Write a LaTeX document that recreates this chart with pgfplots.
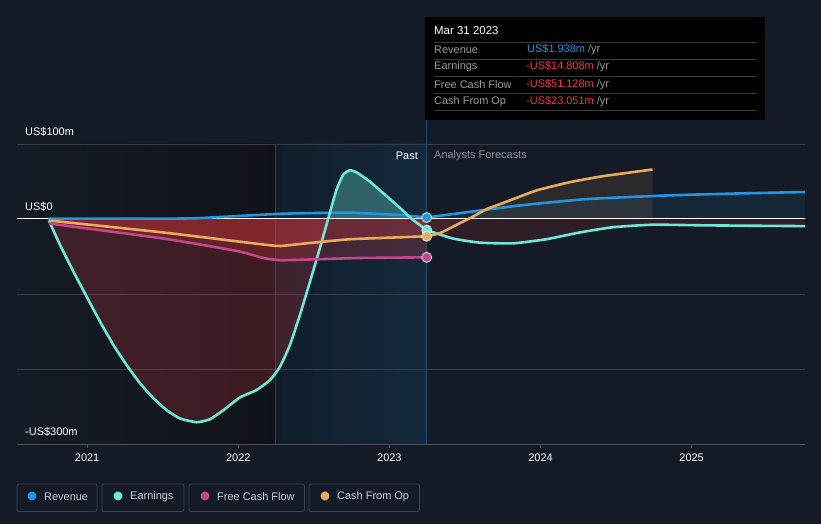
\documentclass[border=0pt]{standalone}
\usepackage{fontspec}
\setmainfont{Liberation Sans}
\usepackage{pgfplots}
\usepackage{pgfplotstable}
\pgfplotsset{compat=1.18}

\definecolor{bg}{HTML}{151B26}
\definecolor{darkshade}{HTML}{0F1319}
\definecolor{hlA}{HTML}{111D2A}
\definecolor{hlB}{HTML}{13293D}
\definecolor{vline}{HTML}{1E4A6C}
\definecolor{revc}{HTML}{2394DF}
\definecolor{earnc}{HTML}{6EE7D4}
\definecolor{fcfc}{HTML}{C4468A}
\definecolor{cfoc}{HTML}{E8AA5C}
\definecolor{negred}{HTML}{E0383E}
\definecolor{gridc}{HTML}{363B45}
\definecolor{axisc}{HTML}{4A4F59}
\definecolor{txtgray}{HTML}{8A8F98}
\definecolor{tipgray}{HTML}{9A9A9A}
\definecolor{tipline}{HTML}{3A3A3A}
\definecolor{tipred}{HTML}{F0393F}
\definecolor{legtxt}{HTML}{CDD0D5}
\definecolor{legbox}{HTML}{3C414B}

% values in US$m
\pgfplotstableread{
x y
2020.747 0.5
2021.5 0.5
2021.72 1
2022.0 4
2022.25 6.7
2022.4 7.6
2022.74 8.4
2023.07 5.3
2023.247 1.938
}\revpast
\pgfplotstableread{
x y
2023.247 1.938
2023.53 9.5
2023.86 18
2024.30 26.5
2024.85 31.5
2025.3 34
2025.75 36
}\revfc
\pgfplotstableread{
x y
2020.747 -2
2020.822 -35
2020.909 -70
2020.998 -104
2021.086 -137
2021.174 -168
2021.262 -195
2021.350 -219
2021.438 -239
2021.527 -255
2021.615 -266
2021.725 -271
2021.813 -267
2021.901 -255
2022.011 -238
2022.122 -228
2022.209 -215
2022.276 -197
2022.342 -168
2022.408 -128
2022.474 -84
2022.540 -39
2022.600 4
2022.65 39
2022.694 59
2022.738 65
2022.785 62
2022.87 50
2022.956 35
2023.069 15
2023.155 -1
2023.247 -14.808
}\earnpast
\pgfplotstableread{
x y
2023.247 -14.808
2023.419 -26
2023.597 -31.5
2023.816 -32.5
2024.038 -27
2024.258 -18
2024.477 -11
2024.741 -7.6
2025.1 -8.5
2025.75 -9.5
}\earnfc
\pgfplotstableread{
x y
2020.747 -6
2021.504 -26
2022.0 -43
2022.165 -52
2022.28 -55
2022.474 -54
2022.8 -52
2023.247 -51.128
}\fcfpast
\pgfplotstableread{
x y
2020.747 -2
2021.504 -18
2022.0 -30
2022.21 -35
2022.28 -36
2022.474 -32
2022.738 -27
2023.069 -24.4
2023.247 -23.051
}\cfopast
\pgfplotstableread{
x y
2023.247 -23.051
2023.333 -19
2023.443 -8
2023.551 3
2023.642 13
2023.774 23
2023.972 38
2024.192 49
2024.41 57
2024.741 66
}\cfofc

\begin{document}
\begin{tikzpicture}
\fill[bg] (0,0) rectangle (821bp,524bp);
\begin{axis}[
  at={(17bp,80bp)}, anchor=south west,
  scale only axis, width=788bp, height=300bp,
  xmin=2020.536, xmax=2025.75, ymin=-300, ymax=100,
  axis y line=none, axis x line*=bottom,
  x axis line style={draw=axisc, line width=0.8bp, -},
  xtick={2021,2022,2023,2024,2025},
  xticklabel style={text=white, font=\fontsize{11}{13}\selectfont, yshift=-2bp},
  x tick style={draw=axisc, line width=0.8bp},
  tick align=outside, major tick length=4bp,
  /pgf/number format/1000 sep={},
  /pgf/number format/assume math mode=true,
  ytick=\empty,
  every axis plot/.append style={smooth, tension=0.3},
]
% background shading and grid
\fill[left color=bg, right color=darkshade] (axis cs:2020.536,-300) rectangle (axis cs:2022.245,100);
\fill[left color=hlA, right color=hlB] (axis cs:2022.245,-300) rectangle (axis cs:2023.247,100);
\draw[gridc, line width=0.5bp] (axis cs:2022.245,-300) -- (axis cs:2022.245,100);
\draw[gridc, line width=0.8bp] (axis cs:2020.536,100) -- (axis cs:2025.75,100);
\draw[gridc, line width=0.8bp] (axis cs:2020.536,-100) -- (axis cs:2025.75,-100);
\draw[gridc, line width=0.8bp] (axis cs:2020.536,-200) -- (axis cs:2025.75,-200);
\draw[vline, line width=0.8bp] (axis cs:2023.247,-300) -- (axis cs:2023.247,100);

% area fills
\addplot[draw=none, fill=revc, fill opacity=0.1] table {\revpast} \closedcycle;
\addplot[draw=none, fill=revc, fill opacity=0.1] table {\revfc} \closedcycle;
\begin{scope}
  \clip (axis cs:2020.5,-300) rectangle (axis cs:2025.8,0);
  \addplot[draw=none, fill=negred, fill opacity=0.22] table {\earnpast} \closedcycle;
  \addplot[draw=none, fill=negred, fill opacity=0.12] table {\cfofc} \closedcycle;
\end{scope}
\begin{scope}
  \clip (axis cs:2020.5,0) rectangle (axis cs:2025.8,100);
  \addplot[draw=none, fill=earnc, fill opacity=0.32] table {\earnpast} \closedcycle;
  \addplot[draw=none, fill=cfoc, fill opacity=0.1] table {\cfofc} \closedcycle;
\end{scope}
\addplot[draw=none, fill=negred, fill opacity=0.12] table {\earnfc} \closedcycle;
\addplot[draw=none, fill=negred, fill opacity=0.24] table {\fcfpast} \closedcycle;
\addplot[draw=none, fill=negred, fill opacity=0.24] table {\cfopast} \closedcycle;

\draw[white, line width=1bp] (axis cs:2020.536,0) -- (axis cs:2025.75,0);

% lines
\addplot[revc, line width=2.6bp] table {\revpast};
\addplot[revc, line width=2.6bp] table {\revfc};
\addplot[earnc, line width=2.6bp] table {\earnpast};
\addplot[earnc, line width=2.6bp] table {\earnfc};
\addplot[fcfc, line width=2.6bp] table {\fcfpast};
\addplot[cfoc, line width=2.6bp] table {\cfopast};
\addplot[cfoc, line width=2.6bp] table {\cfofc};

% markers at Mar 31 2023
\addplot[only marks, mark=*, mark size=5bp, mark options={fill=revc, draw=white, line width=0.7bp}] coordinates {(2023.247,1.938)};
\addplot[only marks, mark=*, mark size=5bp, mark options={fill=earnc, draw=white, line width=0.7bp}] coordinates {(2023.247,-14.808)};
\addplot[only marks, mark=*, mark size=5bp, mark options={fill=cfoc, draw=white, line width=0.7bp}] coordinates {(2023.247,-23.051)};
\addplot[only marks, mark=*, mark size=5bp, mark options={fill=fcfc, draw=white, line width=0.7bp}] coordinates {(2023.247,-51.128)};
\end{axis}

\begin{scope}[x=1bp, y=-1bp, shift={(0,524bp)}]
  \draw[vline, line width=0.8bp] (426,120) -- (426,144);
  % axis value labels
  \begin{scope}[every node/.style={font=\fontsize{11}{13}\selectfont, inner sep=0pt}]
  \node[anchor=west, white] at (25,132) {US\$100m};
  \node[anchor=west, white] at (25,207) {US\$0};
  \node[anchor=west, white] at (25,432) {-US\$300m};
  \node[anchor=east, white] at (418,156) {Past};
  \node[anchor=west, txtgray] at (434,156) {Analysts Forecasts};
  \end{scope}
  % tooltip
  \fill[black] (425,17) rectangle (765,120);
  \begin{scope}[every node/.style={font=\fontsize{11}{13}\selectfont, inner sep=0pt, anchor=west}]
  \node[white, font=\fontsize{11.5}{13}\selectfont] at (434,31) {Mar 31 2023};
  \foreach \yy in {42,59,76,93,110} \draw[tipline, line width=0.8bp] (434,\yy) -- (757,\yy);
  \node[tipgray] at (434,50) {Revenue};
  \node[tipgray] at (434,67) {Earnings};
  \node[tipgray] at (434,84.5) {Free Cash Flow};
  \node[tipgray] at (434,101.5) {Cash From Op};
  \node at (527,50) {\textcolor{revc}{US\$1.938m} \textcolor{tipgray}{/yr}};
  \node at (526,67) {\textcolor{tipred}{-US\$14.808m} \textcolor{tipgray}{/yr}};
  \node at (526,84.5) {\textcolor{tipred}{-US\$51.128m} \textcolor{tipgray}{/yr}};
  \node at (526,101.5) {\textcolor{tipred}{-US\$23.051m} \textcolor{tipgray}{/yr}};
  \end{scope}
  % legend
  \begin{scope}[every node/.style={font=\fontsize{11}{13}\selectfont, inner sep=0pt, anchor=west, text=legtxt}]
  \draw[legbox, fill=bg, rounded corners=2bp, line width=0.8bp] (17,484) rectangle (97,511.5);
  \fill[revc] (32,496) circle[radius=4.5bp];
  \node at (44,496.5) {Revenue};
  \draw[legbox, fill=bg, rounded corners=2bp, line width=0.8bp] (102,484) rectangle (184,511.5);
  \fill[earnc] (118,496) circle[radius=4.5bp];
  \node at (130,496.5) {Earnings};
  \draw[legbox, fill=bg, rounded corners=2bp, line width=0.8bp] (189,484) rectangle (304.5,511.5);
  \fill[fcfc] (205,496) circle[radius=4.5bp];
  \node at (217,496.5) {Free Cash Flow};
  \draw[legbox, fill=bg, rounded corners=2bp, line width=0.8bp] (309,484) rectangle (419.5,511.5);
  \fill[cfoc] (325,496) circle[radius=4.5bp];
  \node at (337,496.5) {Cash From Op};
  \end{scope}
\end{scope}
\end{tikzpicture}
\end{document}
